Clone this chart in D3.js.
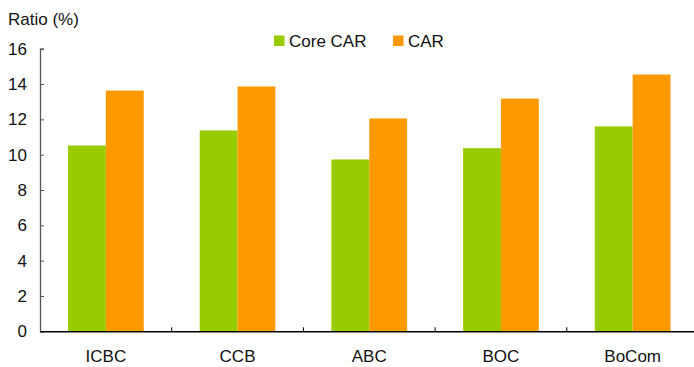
<!DOCTYPE html>
<html>
<head>
<meta charset="utf-8">
<script src="https://cdn.jsdelivr.net/npm/d3@7"></script>
<style>
  body { margin: 0; background: #fff; }
  svg { display: block; font-family: "Liberation Sans", Arial, sans-serif; }
</style>
</head>
<body>
<svg></svg>
<script>
const banks = ["ICBC", "CCB", "ABC", "BOC", "BoCom"];
const coreCar = [10.52, 11.37, 9.73, 10.37, 11.6];
const car = [13.63, 13.86, 12.05, 13.18, 14.54];
const seriesNames = ["Core CAR", "CAR"];
const yTicks = [0, 2, 4, 6, 8, 10, 12, 14, 16];

const width = 694, height = 367;
const margin = { left: 40, right: -4.5, top: 48.7, bottom: 35.7 };
const colors = ["#99cc00", "#ff9900"];
const fontSize = "17px";

const svg = d3.select("svg").attr("width", width).attr("height", height);

const x_scale = d3.scaleBand()
  .domain(banks)
  .range([margin.left, width - margin.right])
  .paddingInner(0)
  .paddingOuter(0);

const y_scale = d3.scaleLinear()
  .domain([0, 16])
  .range([height - margin.bottom, margin.top]);

const inner = d3.scaleBand()
  .domain(seriesNames)
  .range([28, x_scale.bandwidth() - 28]);

// bars
const rows = banks.map((b, i) => ({ bank: b, values: [coreCar[i], car[i]] }));
svg.append("g")
  .selectAll("g")
  .data(rows)
  .join("g")
  .attr("transform", d => `translate(${x_scale(d.bank)},0)`)
  .selectAll("rect")
  .data(d => d.values.map((v, k) => ({ name: seriesNames[k], v, k })))
  .join("rect")
  .attr("x", d => inner(d.name))
  .attr("width", inner.bandwidth())
  .attr("y", d => y_scale(d.v))
  .attr("height", d => y_scale(0) - y_scale(d.v))
  .attr("fill", d => colors[d.k]);

// y axis
const yAxis = svg.append("g")
  .attr("transform", `translate(${margin.left},0)`)
  .call(d3.axisLeft(y_scale).tickValues(yTicks).tickSizeInner(-4).tickSizeOuter(-4).tickPadding(13));
yAxis.select(".domain").attr("stroke", "#555").attr("stroke-width", 1.3);
yAxis.selectAll(".tick line").attr("stroke", "#555");
yAxis.selectAll("text").attr("fill", "#111").style("font-size", fontSize).attr("font-family", null);

// x axis
const xAxis = svg.append("g")
  .attr("transform", `translate(0,${y_scale(0)})`)
  .call(d3.axisBottom(x_scale).tickSize(0).tickPadding(19));
xAxis.select(".domain").attr("stroke", "#000").attr("stroke-width", 1.5);
xAxis.selectAll("text").attr("fill", "#111").style("font-size", fontSize).attr("font-family", null);
// separators between categories, pointing up
svg.append("g")
  .selectAll("line")
  .data(banks.slice(1))
  .join("line")
  .attr("x1", d => x_scale(d)).attr("x2", d => x_scale(d))
  .attr("y1", y_scale(0)).attr("y2", y_scale(0) - 4)
  .attr("stroke", "#000");

// axis title
svg.append("text")
  .attr("x", 8)
  .attr("y", 25)
  .style("font-size", fontSize)
  .attr("fill", "#111")
  .text("Ratio (%)");

// legend
const legendX = [274, 393];
const legend = svg.append("g");
seriesNames.forEach((name, k) => {
  legend.append("rect")
    .attr("x", legendX[k]).attr("y", 35.5)
    .attr("width", 10.5).attr("height", 10.5)
    .attr("fill", colors[k]);
  legend.append("text")
    .attr("x", legendX[k] + 15).attr("y", 46.5)
    .style("font-size", fontSize)
    .attr("fill", "#111")
    .text(name);
});
</script>
</body>
</html>
